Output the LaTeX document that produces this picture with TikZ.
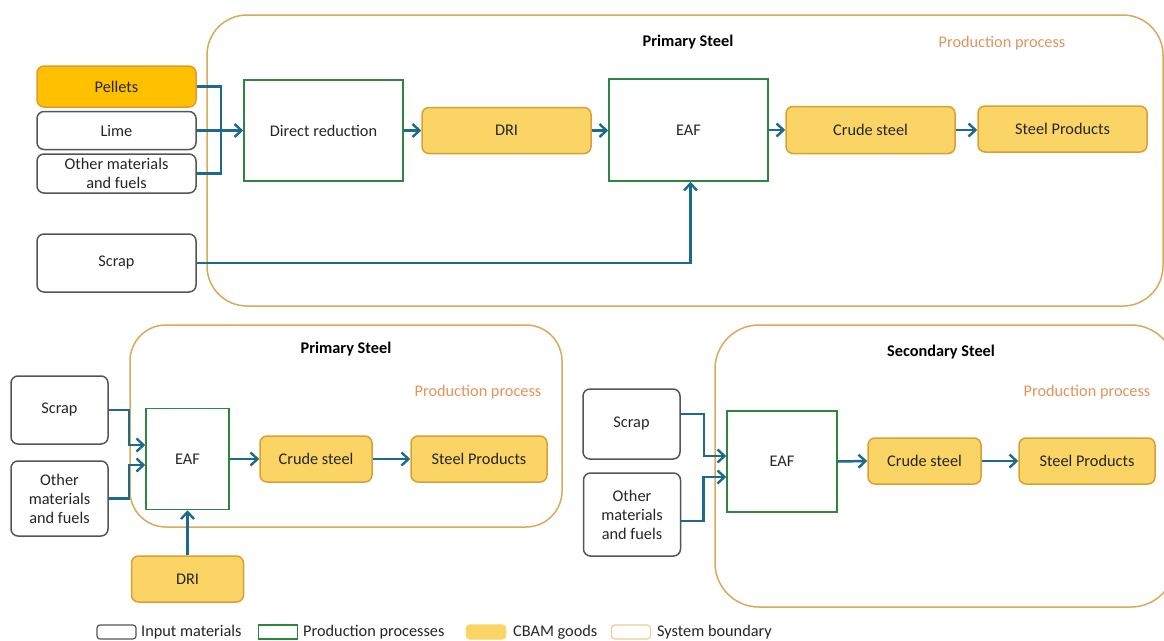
\documentclass[tikz,border=0pt]{standalone}
\usepackage{fontspec}
\setmainfont{Carlito}
\usetikzlibrary{arrows.meta}

\definecolor{flowblue}{HTML}{1D6A8D}
\definecolor{procgreen}{HTML}{2E8540}
\definecolor{bndcol}{HTML}{D8AA5A}
\definecolor{goodfill}{HTML}{FAD464}
\definecolor{goodborder}{HTML}{D9A034}
\definecolor{pelfill}{HTML}{FFC000}
\definecolor{pelborder}{HTML}{E39A2C}
\definecolor{inborder}{HTML}{555555}
\definecolor{ppcol}{HTML}{E0955C}
\definecolor{legbnd}{HTML}{E9CF98}

\tikzset{
  sz/.style 2 args={minimum width=#1pt, minimum height=#2pt},
  base/.style={inner sep=0pt, align=center, font=\fontsize{16.3}{19}\selectfont, text=black!85, line width=1.5pt},
  inbox/.style={base, draw=inborder, fill=white, rounded corners=7pt},
  pelbox/.style={base, draw=pelborder, fill=pelfill, rounded corners=7pt},
  proc/.style={base, draw=procgreen, fill=white},
  good/.style={base, draw=goodborder, fill=goodfill, rounded corners=7pt},
  flow/.style={draw=flowblue, line width=2.5pt, -{Straight Barb[length=7pt,width=13pt,line width=2.4pt]}},
  feed/.style={draw=flowblue, line width=2.5pt},
  bound/.style={draw=bndcol, line width=1.5pt},
  title/.style={font=\bfseries\fontsize{16.3}{19}\selectfont},
  pp/.style={text=ppcol, font=\fontsize{16.3}{19}\selectfont},
  legbox/.style={line width=1.2pt, rounded corners=3pt, minimum width=39pt, minimum height=14pt, inner sep=0pt},
  legtext/.style={anchor=west, inner sep=0pt, font=\fontsize{16.3}{19}\selectfont, text=black!85}
}

\begin{document}
\begin{tikzpicture}[x=1pt, y=-1pt]
\clip (0,0) rectangle (1164,640);
\fill[white] (0,0) rectangle (1164,640);

% ---------- Primary steel: direct reduction route ----------
\draw[bound, rounded corners=40pt] (207,15) rectangle (1163,306);
\node[title] (t1) at (688,42) {Primary Steel};
\node[pp] (p1) at (1002,43) {Production process};

\node[pelbox, sz={159}{41}] (pel) at (116.5,86.5) {Pellets};
\node[inbox, sz={159}{38}] (lime) at (116.5,130.5) {Lime};
\node[inbox, sz={159}{39}] (oth1) at (116.5,173.5) {Other materials\\and fuels};
\node[inbox, sz={159}{58}] (scr1) at (116.5,263) {Scrap};

\node[proc, sz={159}{101}] (dr) at (323.5,130.5) {Direct reduction};
\node[good, sz={169}{46}] (dri1) at (506.5,130.5) {DRI};
\node[proc, sz={159}{102}] (eaf1) at (688.5,130) {EAF};
\node[good, sz={169}{47}] (cru1) at (870.5,130) {Crude steel};
\node[good, sz={169}{46}] (prd1) at (1062.5,129) {Steel Products};

\draw[feed] (pel.east) -- ++(24pt,0) |- (oth1.east);
\draw[flow] (lime.east) -- (dr.west);
\draw[flow] (dr.east) -- (dri1.west);
\draw[flow] (dri1.east) -- (dri1.east -| eaf1.west);
\draw[flow] (eaf1.east |- cru1.west) -- (cru1.west);
\draw[flow] (cru1.east) -- (cru1.east -| prd1.west);
\draw[flow] (scr1.east) -| ([xshift=2pt]eaf1.south);

% ---------- Primary steel: EAF with DRI ----------
\draw[bound, rounded corners=36pt] (130,325) rectangle (562,527);
\node[title] (t2) at (346,349) {Primary Steel};
\node[pp] (p2) at (478,392) {Production process};

\node[inbox, sz={97}{68}] (scr2) at (59.5,410) {Scrap};
\node[inbox, sz={97}{75}] (oth2) at (59.5,498.5) {Other\\materials\\and fuels};
\node[proc, sz={83}{101}] (eaf2) at (187.5,459) {EAF};
\node[good, sz={112}{46}] (cru2) at (316,459) {Crude steel};
\node[good, sz={136}{46}] (prd2) at (479,459) {Steel Products};
\node[good, sz={112}{46}] (dri2) at (187.5,579) {DRI};

\draw[flow] (scr2.east) -- ++(20pt,0) |- ([yshift=14pt]eaf2.west);
\draw[flow] (oth2.east) -- ++(20pt,0) |- ([yshift=-6pt]eaf2.west);
\draw[flow] (dri2.north) -- (eaf2.south);
\draw[flow] (eaf2.east) -- (cru2.west);
\draw[flow] (cru2.east) -- (prd2.west);

% ---------- Secondary steel ----------
\draw[bound, rounded corners=44pt] (715,325) rectangle (1175,607);
\node[title] (t3) at (941,352) {Secondary Steel};
\node[pp] (p3) at (1087,392) {Production process};

\node[inbox, sz={97}{70}] (scr3) at (631.5,424) {Scrap};
\node[inbox, sz={97}{83}] (oth3) at (632,514.5) {Other\\materials\\and fuels};
\node[proc, sz={110}{101}] (eaf3) at (782,461.5) {EAF};
\node[good, sz={113}{46}] (cru3) at (924.5,461) {Crude steel};
\node[good, sz={136}{46}] (prd3) at (1087,461) {Steel Products};

\draw[flow] ([yshift=10pt]scr3.east) -- ++(23pt,0) |- ([yshift=5.5pt]eaf3.west);
\draw[flow] ([yshift=-6.5pt]oth3.east) -- ++(22pt,0) |- ([yshift=-15.5pt]eaf3.west);
\draw[flow] (eaf3.east) -- (cru3.west);
\draw[flow] (cru3.east) -- (prd3.west);

% ---------- Legend ----------
\node[legbox, draw=inborder, fill=white] (l1) at (116.5,632) {};
\node[legtext] (lt1) at (141,632) {Input materials};
\node[legbox, draw=procgreen, fill=white, rounded corners=0pt] (l2) at (278,632) {};
\node[legtext] (lt2) at (303,632) {Production processes};
\node[legbox, draw=goodfill, fill=goodfill] (l3) at (486,632) {};
\node[legtext] (lt3) at (513,632) {CBAM goods};
\node[legbox, draw=legbnd, fill=white] (l4) at (631,632) {};
\node[legtext] (lt4) at (657,632) {System boundary};
\end{tikzpicture}
\end{document}
